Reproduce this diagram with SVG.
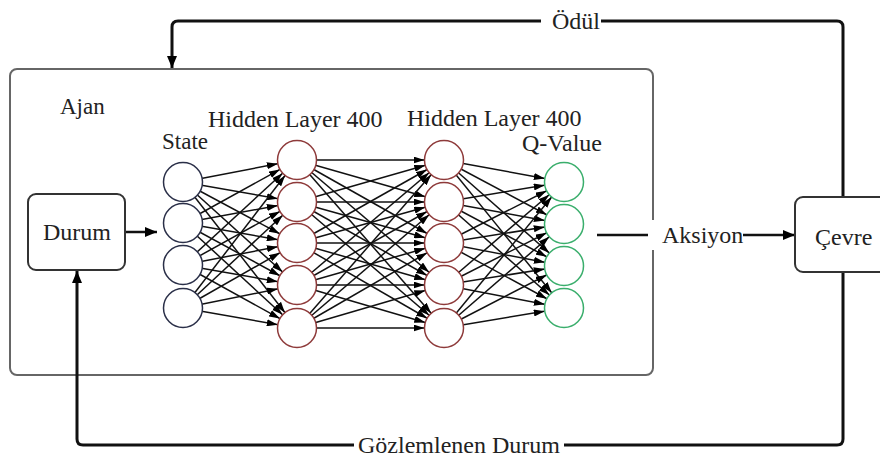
<svg xmlns="http://www.w3.org/2000/svg" width="880" height="459" viewBox="0 0 880 459">
<style>
text{font-family:"Liberation Serif","Times New Roman",serif;font-size:24px;fill:#222}
.box{fill:#fff;stroke:#333;stroke-width:2}
.fb{fill:none;stroke:#111;stroke-width:3;stroke-linejoin:round}
.nn line{stroke:#111;stroke-width:1.5;marker-end:url(#ah)}
.st{fill:#fff;stroke:#2a2f48;stroke-width:1.5}
.hd{fill:#fff;stroke:#8e3a3a;stroke-width:1.5}
.qv{fill:#fff;stroke:#3aae6c;stroke-width:1.5}
</style>
<defs>
<marker id="ah" markerUnits="userSpaceOnUse" markerWidth="11" markerHeight="7" refX="30.5" refY="3.5" orient="auto"><path d="M0,0 L11,3.5 L0,7 z" fill="#000"/></marker>
<marker id="arr" markerUnits="userSpaceOnUse" markerWidth="12" markerHeight="10" refX="12" refY="5" orient="auto"><path d="M0,0 L12,5 L0,10 z" fill="#000"/></marker>
</defs>
<rect width="880" height="459" fill="#fff"/>
<g id="ajan">
<rect x="10" y="69" width="643" height="306" rx="7" fill="none" stroke="#666" stroke-width="2"/>
<text x="60" y="114" style="font-size:23px">Ajan</text>
</g>
<g id="connectors">
<path class="fb" d="M843,197 V27 Q843,21 837,21 H178 Q172,21 172,27 V68" marker-end="url(#arr)"/>
<path class="fb" d="M843,272 V439 Q843,445 837,445 H83 Q77,445 77,439 V271" marker-end="url(#arr)"/>
<line x1="125" y1="232" x2="157" y2="232" stroke="#111" stroke-width="2.5" marker-end="url(#arr)"/>
<line x1="597" y1="235" x2="650" y2="235" stroke="#111" stroke-width="2.5"/>
<line x1="743" y1="235" x2="795" y2="235" stroke="#111" stroke-width="2.5" marker-end="url(#arr)"/>
<g class="nn">
<line x1="183" y1="182" x2="297" y2="160"/><line x1="183" y1="182" x2="297" y2="202"/><line x1="183" y1="182" x2="297" y2="243"/><line x1="183" y1="182" x2="297" y2="285"/><line x1="183" y1="182" x2="297" y2="328"/>
<line x1="183" y1="223" x2="297" y2="160"/><line x1="183" y1="223" x2="297" y2="202"/><line x1="183" y1="223" x2="297" y2="243"/><line x1="183" y1="223" x2="297" y2="285"/><line x1="183" y1="223" x2="297" y2="328"/>
<line x1="183" y1="265" x2="297" y2="160"/><line x1="183" y1="265" x2="297" y2="202"/><line x1="183" y1="265" x2="297" y2="243"/><line x1="183" y1="265" x2="297" y2="285"/><line x1="183" y1="265" x2="297" y2="328"/>
<line x1="183" y1="308" x2="297" y2="160"/><line x1="183" y1="308" x2="297" y2="202"/><line x1="183" y1="308" x2="297" y2="243"/><line x1="183" y1="308" x2="297" y2="285"/><line x1="183" y1="308" x2="297" y2="328"/>
<line x1="297" y1="160" x2="444" y2="160"/><line x1="297" y1="160" x2="444" y2="202"/><line x1="297" y1="160" x2="444" y2="243"/><line x1="297" y1="160" x2="444" y2="285"/><line x1="297" y1="160" x2="444" y2="328"/>
<line x1="297" y1="202" x2="444" y2="160"/><line x1="297" y1="202" x2="444" y2="202"/><line x1="297" y1="202" x2="444" y2="243"/><line x1="297" y1="202" x2="444" y2="285"/><line x1="297" y1="202" x2="444" y2="328"/>
<line x1="297" y1="243" x2="444" y2="160"/><line x1="297" y1="243" x2="444" y2="202"/><line x1="297" y1="243" x2="444" y2="243"/><line x1="297" y1="243" x2="444" y2="285"/><line x1="297" y1="243" x2="444" y2="328"/>
<line x1="297" y1="285" x2="444" y2="160"/><line x1="297" y1="285" x2="444" y2="202"/><line x1="297" y1="285" x2="444" y2="243"/><line x1="297" y1="285" x2="444" y2="285"/><line x1="297" y1="285" x2="444" y2="328"/>
<line x1="297" y1="328" x2="444" y2="160"/><line x1="297" y1="328" x2="444" y2="202"/><line x1="297" y1="328" x2="444" y2="243"/><line x1="297" y1="328" x2="444" y2="285"/><line x1="297" y1="328" x2="444" y2="328"/>
<line x1="444" y1="160" x2="564" y2="182"/><line x1="444" y1="160" x2="564" y2="224"/><line x1="444" y1="160" x2="564" y2="266"/><line x1="444" y1="160" x2="564" y2="308"/>
<line x1="444" y1="202" x2="564" y2="182"/><line x1="444" y1="202" x2="564" y2="224"/><line x1="444" y1="202" x2="564" y2="266"/><line x1="444" y1="202" x2="564" y2="308"/>
<line x1="444" y1="243" x2="564" y2="182"/><line x1="444" y1="243" x2="564" y2="224"/><line x1="444" y1="243" x2="564" y2="266"/><line x1="444" y1="243" x2="564" y2="308"/>
<line x1="444" y1="285" x2="564" y2="182"/><line x1="444" y1="285" x2="564" y2="224"/><line x1="444" y1="285" x2="564" y2="266"/><line x1="444" y1="285" x2="564" y2="308"/>
<line x1="444" y1="328" x2="564" y2="182"/><line x1="444" y1="328" x2="564" y2="224"/><line x1="444" y1="328" x2="564" y2="266"/><line x1="444" y1="328" x2="564" y2="308"/>
</g>
</g>
<g id="label-odul"><rect x="541" y="8" width="60" height="26" fill="#fff"/><text x="552" y="29">Ödül</text></g>
<g id="label-gozlem"><rect x="354" y="432" width="210" height="26" fill="#fff"/><text x="358" y="453">Gözlemlenen Durum</text></g>
<g id="label-aksiyon"><rect x="648" y="220" width="95" height="30" fill="#fff"/><text x="662" y="243">Aksiyon</text></g>
<g id="durum"><rect class="box" x="28" y="194" width="97" height="76" rx="8"/><text x="77" y="240" text-anchor="middle">Durum</text></g>
<g id="cevre"><rect class="box" x="795" y="197" width="92" height="75" rx="8"/><text x="815" y="245">Çevre</text></g>
<g id="state-layer">
<text x="162" y="149" style="font-size:23px">State</text>
<circle class="st" cx="183" cy="182" r="19.5"/><circle class="st" cx="183" cy="223" r="19.5"/><circle class="st" cx="183" cy="265" r="19.5"/><circle class="st" cx="183" cy="308" r="19.5"/>
</g>
<g id="hidden-layer-1">
<text x="208" y="127">Hidden Layer 400</text>
<circle class="hd" cx="297" cy="160" r="19.5"/><circle class="hd" cx="297" cy="202" r="19.5"/><circle class="hd" cx="297" cy="243" r="19.5"/><circle class="hd" cx="297" cy="285" r="19.5"/><circle class="hd" cx="297" cy="328" r="19.5"/>
</g>
<g id="hidden-layer-2">
<text x="407" y="126">Hidden Layer 400</text>
<circle class="hd" cx="444" cy="160" r="19.5"/><circle class="hd" cx="444" cy="202" r="19.5"/><circle class="hd" cx="444" cy="243" r="19.5"/><circle class="hd" cx="444" cy="285" r="19.5"/><circle class="hd" cx="444" cy="328" r="19.5"/>
</g>
<g id="q-layer">
<text x="522" y="151">Q-Value</text>
<circle class="qv" cx="564" cy="182" r="19.5"/><circle class="qv" cx="564" cy="224" r="19.5"/><circle class="qv" cx="564" cy="266" r="19.5"/><circle class="qv" cx="564" cy="308" r="19.5"/>
</g>
</svg>
